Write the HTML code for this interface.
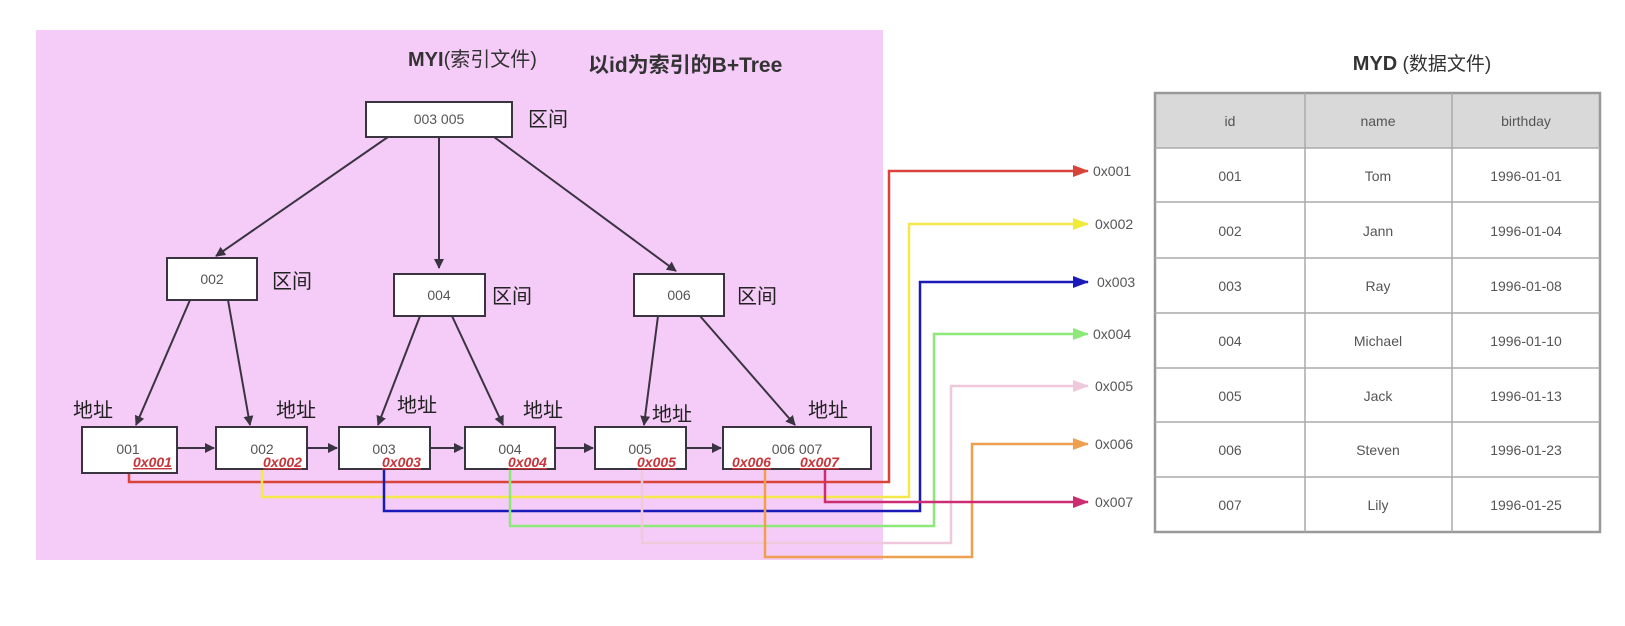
<!DOCTYPE html>
<html><head><meta charset="utf-8"><style>
html,body{margin:0;padding:0;background:#fff;}
svg{display:block;}
text{font-family:"Liberation Sans","Noto Sans CJK SC",sans-serif;}
</style></head><body>
<svg width="1625" height="626" viewBox="0 0 1625 626" xmlns="http://www.w3.org/2000/svg">
<defs>
<marker id="ak" markerWidth="10" markerHeight="10" refX="9" refY="5" orient="auto" markerUnits="userSpaceOnUse"><path d="M0,0 L10,5 L0,10 z" fill="#3a3340"/></marker>
<marker id="ar" markerWidth="16" markerHeight="12" refX="15" refY="6" orient="auto" markerUnits="userSpaceOnUse"><path d="M0,0 L16,6 L0,12 z" fill="#d9443a"/></marker>
<marker id="ay" markerWidth="16" markerHeight="12" refX="15" refY="6" orient="auto" markerUnits="userSpaceOnUse"><path d="M0,0 L16,6 L0,12 z" fill="#f2ea3a"/></marker>
<marker id="ab" markerWidth="16" markerHeight="12" refX="15" refY="6" orient="auto" markerUnits="userSpaceOnUse"><path d="M0,0 L16,6 L0,12 z" fill="#1a1ab8"/></marker>
<marker id="ag" markerWidth="16" markerHeight="12" refX="15" refY="6" orient="auto" markerUnits="userSpaceOnUse"><path d="M0,0 L16,6 L0,12 z" fill="#8de87a"/></marker>
<marker id="ap" markerWidth="16" markerHeight="12" refX="15" refY="6" orient="auto" markerUnits="userSpaceOnUse"><path d="M0,0 L16,6 L0,12 z" fill="#f0c8dc"/></marker>
<marker id="ao" markerWidth="16" markerHeight="12" refX="15" refY="6" orient="auto" markerUnits="userSpaceOnUse"><path d="M0,0 L16,6 L0,12 z" fill="#eea050"/></marker>
<marker id="am" markerWidth="16" markerHeight="12" refX="15" refY="6" orient="auto" markerUnits="userSpaceOnUse"><path d="M0,0 L16,6 L0,12 z" fill="#cc2d72"/></marker>
</defs>
<rect x="36" y="30" width="847" height="530" fill="#f5ccf8"/>
<text x="408" y="66" font-size="20" font-weight="bold" fill="#333">MYI<tspan font-weight="normal">(索引文件)</tspan></text>
<text x="588" y="72" font-size="21" font-weight="bold" fill="#333">以id为索引的B+Tree</text>

<g stroke="#3a3340" stroke-width="2" fill="none" marker-end="url(#ak)">
<line x1="388" y1="137" x2="216" y2="256"/>
<line x1="439" y1="137" x2="439" y2="268"/>
<line x1="494" y1="137" x2="676" y2="271"/>
<line x1="190" y1="300" x2="136" y2="425"/>
<line x1="228" y1="300" x2="250" y2="425"/>
<line x1="420" y1="316" x2="378" y2="425"/>
<line x1="452" y1="316" x2="503" y2="425"/>
<line x1="658" y1="316" x2="644" y2="425"/>
<line x1="700" y1="316" x2="795" y2="425"/>
<line x1="177" y1="448" x2="214" y2="448"/>
<line x1="307" y1="448" x2="337" y2="448"/>
<line x1="430" y1="448" x2="463" y2="448"/>
<line x1="555" y1="448" x2="593" y2="448"/>
<line x1="686" y1="448" x2="721" y2="448"/>
</g>

<g stroke="#3a3340" stroke-width="2" fill="#fff">
<rect x="366" y="102" width="146" height="35"/>
<rect x="167" y="258" width="90" height="42"/>
<rect x="394" y="274" width="91" height="42"/>
<rect x="634" y="274" width="90" height="42"/>
<rect x="82" y="427" width="95" height="46"/>
<rect x="216" y="427" width="91" height="42"/>
<rect x="339" y="427" width="91" height="42"/>
<rect x="465" y="427" width="90" height="42"/>
<rect x="595" y="427" width="91" height="42"/>
<rect x="723" y="427" width="148" height="42"/>
</g>
<g font-size="14" fill="#555" text-anchor="middle">
<text x="439" y="124">003  005</text>
<text x="212" y="284">002</text>
<text x="439" y="300">004</text>
<text x="679" y="300">006</text>
<text x="128" y="454">001</text>
<text x="262" y="454">002</text>
<text x="384" y="454">003</text>
<text x="510" y="454">004</text>
<text x="640" y="454">005</text>
<text x="797" y="454">006  007</text>
</g>
<g font-size="20" fill="#222">
<text x="528" y="126">区间</text>
<text x="272" y="288">区间</text>
<text x="492" y="303">区间</text>
<text x="737" y="303">区间</text>
<text x="73" y="417">地址</text>
<text x="276" y="417">地址</text>
<text x="397" y="412">地址</text>
<text x="523" y="417">地址</text>
<text x="652" y="421">地址</text>
<text x="808" y="417">地址</text>
</g>
<g font-size="14" font-weight="bold" font-style="italic" fill="#c8343a" text-decoration="underline">
<text x="133" y="467">0x001</text>
<text x="263" y="467">0x002</text>
<text x="382" y="467">0x003</text>
<text x="508" y="467">0x004</text>
<text x="637" y="467">0x005</text>
<text x="732" y="467">0x006</text>
<text x="800" y="467">0x007</text>
</g>

<g fill="none" stroke-width="2.5">
<polyline points="129,474 129,482 889,482 889,171 1088,171" stroke="#d9443a" marker-end="url(#ar)"/>
<polyline points="262,470 262,497 909,497 909,224 1088,224" stroke="#f5e84a" marker-end="url(#ay)"/>
<polyline points="384,470 384,511 920,511 920,282 1088,282" stroke="#1a1ab8" marker-end="url(#ab)"/>
<polyline points="510,470 510,526 934,526 934,334 1088,334" stroke="#8de87a" marker-end="url(#ag)"/>
<polyline points="642,470 642,543 951,543 951,386 1088,386" stroke="#f0c8dc" marker-end="url(#ap)"/>
<polyline points="765,470 765,557 972,557 972,444 1088,444" stroke="#eea050" marker-end="url(#ao)"/>
<polyline points="825,470 825,502 1088,502" stroke="#cc2d72" marker-end="url(#am)"/>
</g>
<g font-size="14" fill="#555">
<text x="1093" y="176">0x001</text>
<text x="1095" y="229">0x002</text>
<text x="1097" y="287">0x003</text>
<text x="1093" y="339">0x004</text>
<text x="1095" y="391">0x005</text>
<text x="1095" y="449">0x006</text>
<text x="1095" y="507">0x007</text>
</g>

<text x="1422" y="70" font-size="20" font-weight="bold" fill="#333" text-anchor="middle">MYD<tspan font-weight="normal" font-size="19"> (数据文件)</tspan></text>
<rect x="1155" y="93" width="445" height="55" fill="#d9d9d9"/>
<g stroke="#aaa" stroke-width="1.5" fill="none">
<rect x="1155" y="93" width="445" height="439" stroke="#999" stroke-width="2.5"/>
<line x1="1155" y1="148" x2="1600" y2="148"/>
<line x1="1155" y1="202" x2="1600" y2="202"/>
<line x1="1155" y1="258" x2="1600" y2="258"/>
<line x1="1155" y1="313" x2="1600" y2="313"/>
<line x1="1155" y1="368" x2="1600" y2="368"/>
<line x1="1155" y1="422" x2="1600" y2="422"/>
<line x1="1155" y1="477" x2="1600" y2="477"/>
<line x1="1305" y1="93" x2="1305" y2="532"/>
<line x1="1452" y1="93" x2="1452" y2="532"/>
</g>
<g font-size="14" fill="#555" text-anchor="middle">
<text x="1230" y="126">id</text><text x="1378" y="126">name</text><text x="1526" y="126">birthday</text>
<text x="1230" y="181">001</text><text x="1378" y="181">Tom</text><text x="1526" y="181">1996-01-01</text>
<text x="1230" y="236">002</text><text x="1378" y="236">Jann</text><text x="1526" y="236">1996-01-04</text>
<text x="1230" y="291">003</text><text x="1378" y="291">Ray</text><text x="1526" y="291">1996-01-08</text>
<text x="1230" y="346">004</text><text x="1378" y="346">Michael</text><text x="1526" y="346">1996-01-10</text>
<text x="1230" y="401">005</text><text x="1378" y="401">Jack</text><text x="1526" y="401">1996-01-13</text>
<text x="1230" y="455">006</text><text x="1378" y="455">Steven</text><text x="1526" y="455">1996-01-23</text>
<text x="1230" y="510">007</text><text x="1378" y="510">Lily</text><text x="1526" y="510">1996-01-25</text>
</g>
</svg>
</body></html>
